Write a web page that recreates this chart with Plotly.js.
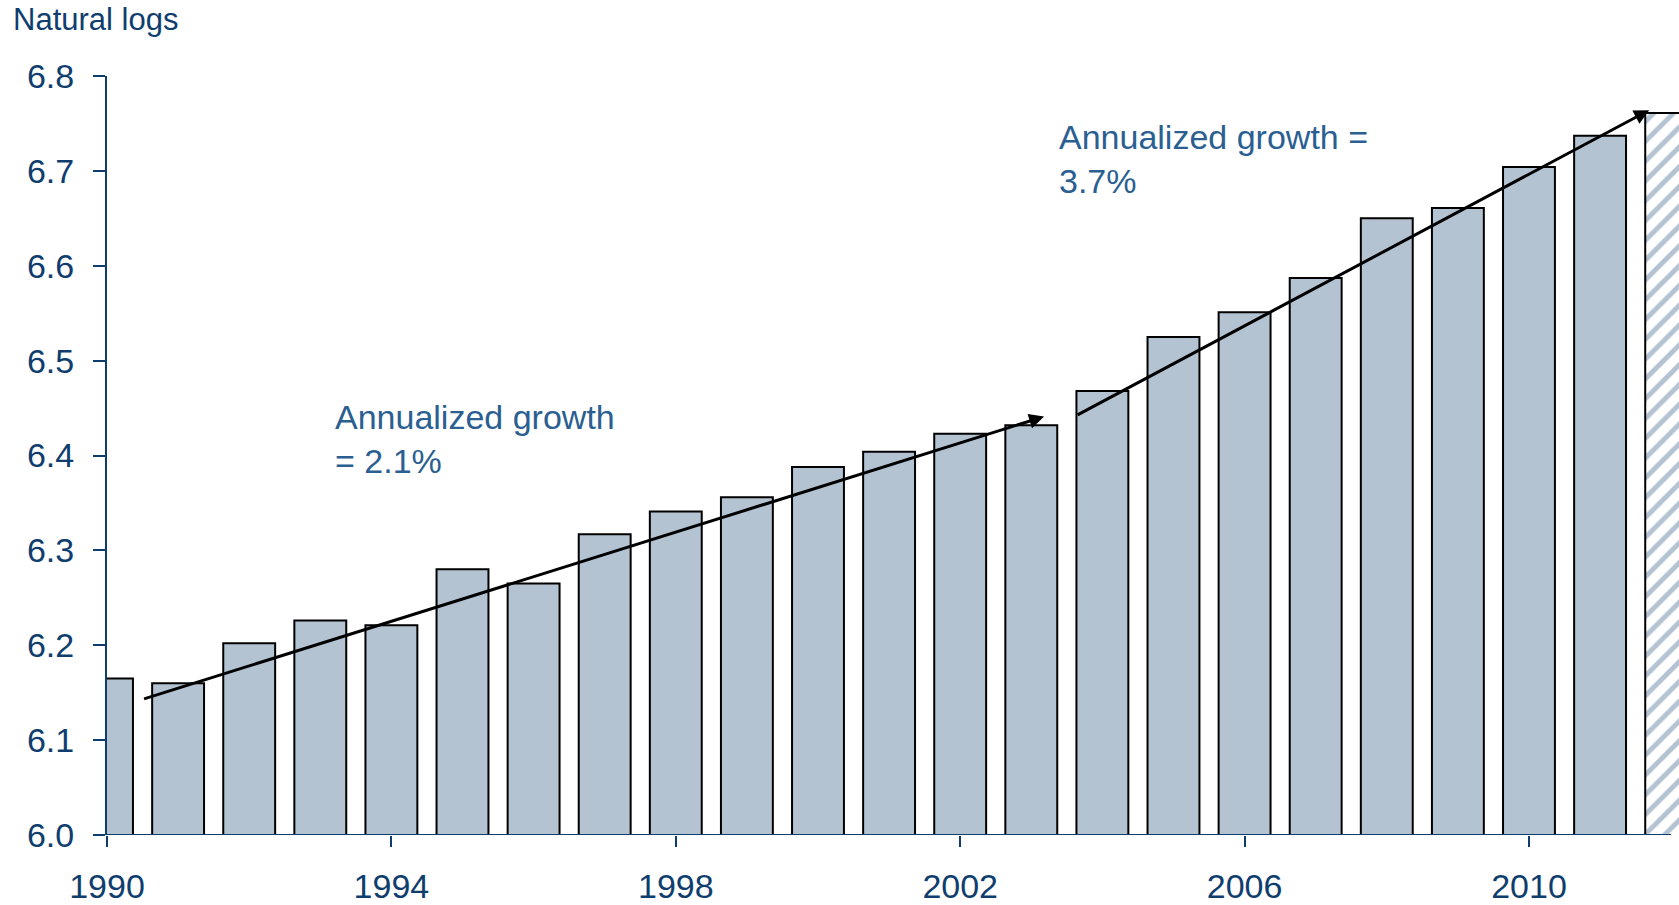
<!DOCTYPE html>
<html>
<head>
<meta charset="utf-8">
<script src="https://cdn.plot.ly/plotly-3.0.1.min.js"></script>
<style>
  html, body { margin: 0; padding: 0; background: #ffffff; }
  #plot { width: 1679px; height: 905px; }
</style>
</head>
<body>
<div id="plot"></div>
<script>
// Years and values (natural logs)
let years = [1990, 1991, 1992, 1993, 1994, 1995, 1996, 1997, 1998, 1999, 2000,
             2001, 2002, 2003, 2004, 2005, 2006, 2007, 2008, 2009, 2010, 2011];
let values = [6.165, 6.160, 6.202, 6.226, 6.221, 6.280, 6.265, 6.317, 6.341, 6.356, 6.388,
              6.404, 6.423, 6.432, 6.468, 6.525, 6.551, 6.587, 6.650, 6.661, 6.704, 6.737];

// Projected year (hatched bar)
let projYears = [2012];
let projValues = [6.761];

// Tick labels
let xTicks = [1990, 1994, 1998, 2002, 2006, 2010];
let yTicks = [6.0, 6.1, 6.2, 6.3, 6.4, 6.5, 6.6, 6.7, 6.8];

// Trend arrows: [start x, start y, end x, end y]
let trend1 = [1990.50, 6.143, 2003.18, 6.441];
let trend2 = [2003.63, 6.442, 2011.69, 6.764];

let navy = "#0f3e6e";
let textBlue = "#2b5f91";
let barFill = "#b4c3d2";

// Actual values
let trace1 = {
  x: years,
  y: values,
  type: "bar",
  width: 0.73,
  marker: {
    color: barFill,
    line: { color: "#000000", width: 2 }
  },
  hoverinfo: "x+y"
};

// Projection with hatching
let trace2 = {
  x: projYears,
  y: projValues,
  type: "bar",
  width: 0.73,
  marker: {
    color: "#ffffff",
    line: { color: "#000000", width: 2 },
    pattern: { shape: "/", fgcolor: barFill, bgcolor: "#ffffff", size: 14, solidity: 0.35 }
  },
  hoverinfo: "x+y"
};

let data = [trace1, trace2];

let layout = {
  width: 1679,
  height: 905,
  showlegend: false,
  barmode: "overlay",
  paper_bgcolor: "#ffffff",
  plot_bgcolor: "#ffffff",
  font: { family: "Liberation Sans, Arial, sans-serif", color: navy },
  margin: { l: 107, r: 0, t: 76, b: 70, pad: 0 },
  xaxis: {
    range: [1990, 2012.11],
    tickvals: xTicks,
    ticktext: xTicks.map(String),
    ticks: "outside",
    ticklen: 11,
    tickwidth: 2,
    tickcolor: navy,
    ticklabelstandoff: 10,
    tickfont: { size: 34, color: navy },
    showline: false,
    showgrid: false,
    zeroline: false,
    fixedrange: true
  },
  yaxis: {
    range: [6.0, 6.8],
    tickvals: yTicks,
    ticktext: yTicks.map(v => v.toFixed(1)),
    ticks: "outside",
    ticklen: 12,
    tickwidth: 2,
    tickcolor: navy,
    ticklabelstandoff: 12,
    tickfont: { size: 34, color: navy },
    showline: true,
    linecolor: navy,
    linewidth: 2,
    showgrid: false,
    zeroline: false,
    fixedrange: true
  },
  shapes: [
    // x axis line, stops at 2012
    {
      type: "line", xref: "x", yref: "y",
      x0: 1990, x1: 2012, y0: 6.0, y1: 6.0,
      line: { color: navy, width: 2 }
    }
  ],
  annotations: [
    {
      text: "Natural logs",
      xref: "paper", yref: "paper",
      x: -0.061, y: 1.1,
      xanchor: "left", yanchor: "top",
      showarrow: false,
      font: { size: 31, color: navy }
    },
    {
      text: "Annualized growth<br>= 2.1%",
      xref: "x", yref: "y",
      x: 1993.18, y: 6.463,
      xanchor: "left", yanchor: "top", align: "left",
      showarrow: false,
      font: { size: 34, color: textBlue }
    },
    {
      text: "Annualized growth =<br>3.7%",
      xref: "x", yref: "y",
      x: 2003.36, y: 6.758,
      xanchor: "left", yanchor: "top", align: "left",
      showarrow: false,
      font: { size: 34, color: textBlue }
    },
    {
      text: "",
      xref: "x", yref: "y", axref: "x", ayref: "y",
      x: trend1[2], y: trend1[3], ax: trend1[0], ay: trend1[1],
      showarrow: true, arrowhead: 2, arrowsize: 1, arrowwidth: 3,
      arrowcolor: "#000000", standoff: 0
    },
    {
      text: "",
      xref: "x", yref: "y", axref: "x", ayref: "y",
      x: trend2[2], y: trend2[3], ax: trend2[0], ay: trend2[1],
      showarrow: true, arrowhead: 2, arrowsize: 1, arrowwidth: 3,
      arrowcolor: "#000000", standoff: 0
    }
  ]
};

Plotly.newPlot("plot", data, layout, { displayModeBar: false, staticPlot: true });
</script>
</body>
</html>
